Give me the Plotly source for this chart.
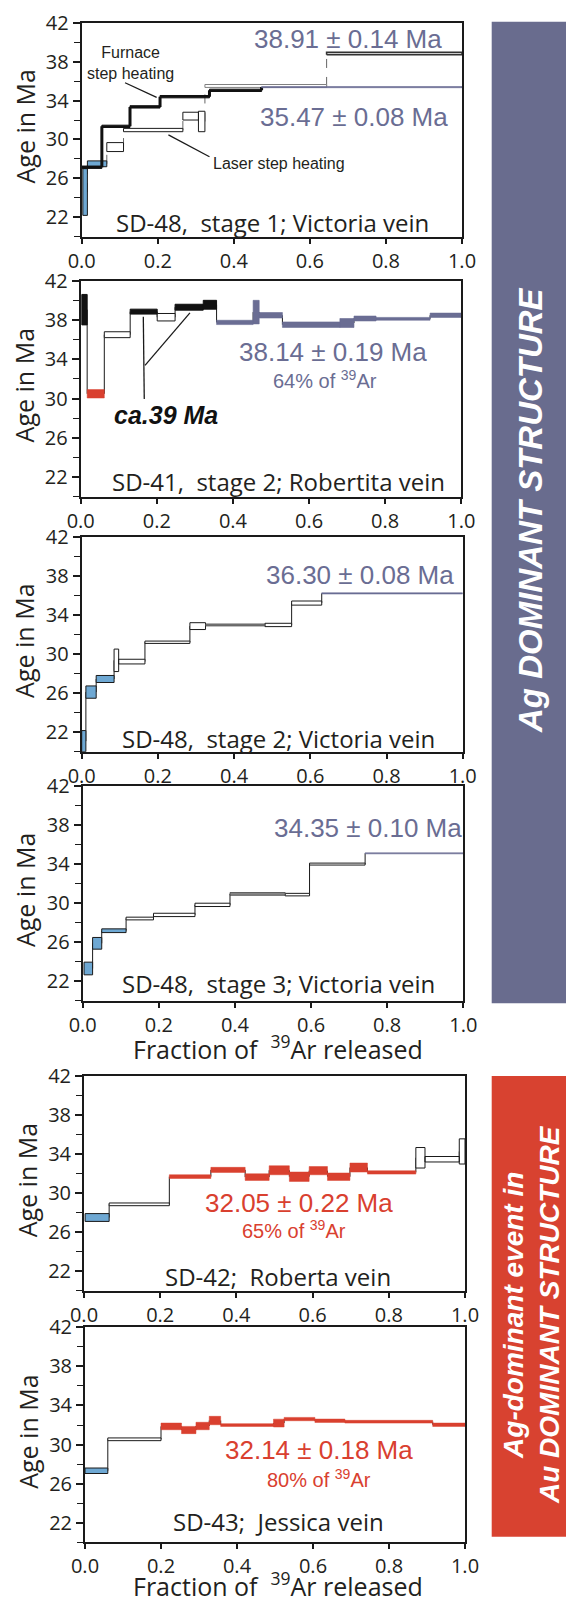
import plotly.graph_objects as go

# page body has an 8px margin: the figure is placed at (8, 8) inside the 574x1601 window
OX, OY = 8, 8
W, H = 574 - OX, 1601 - OY

# ------------------------------------------------------------------ data
# Panel 1 : SD-48, stage 1 (laser + furnace spectra)
p1_laser_start = [0.003, 0.015, 0.066, 0.110, 0.266, 0.307, 0.324, 0.644]
p1_laser_end   = [0.015, 0.066, 0.110, 0.266, 0.307, 0.324, 0.644, 1.000]
p1_laser_age   = [24.6, 27.5, 29.22, 30.97, 32.4, 31.85, 35.5, 38.83]
p1_laser_err   = [2.4, 0.3, 0.46, 0.17, 0.4, 1.05, 0.15, 0.12]
p1_laser_kind  = ['b', 'b', 'w', 'w', 'w', 'w', 'wg', 'wd']

p1_furn_start = [0.000, 0.053, 0.127, 0.206, 0.336, 0.473]
p1_furn_end   = [0.053, 0.127, 0.206, 0.336, 0.473, 1.000]
p1_furn_age   = [27.15, 31.35, 33.35, 34.4, 35.05, 35.38]
p1_furn_err   = [0.12, 0.12, 0.12, 0.12, 0.12, 0.06]
p1_furn_kind  = ['k', 'k', 'k', 'k', 'k', 'p']

# Panel 2 : SD-41, stage 2
p2_start = [0.003, 0.017, 0.062, 0.130, 0.201, 0.248, 0.322, 0.357, 0.453, 0.469, 0.530, 0.681, 0.718, 0.776, 0.918]
p2_end   = [0.017, 0.062, 0.130, 0.201, 0.248, 0.322, 0.357, 0.453, 0.469, 0.530, 0.681, 0.718, 0.776, 0.918, 1.000]
p2_age   = [39.05, 30.48, 36.5, 38.85, 38.28, 39.3, 39.55, 37.75, 38.8, 38.48, 37.52, 37.69, 38.15, 38.12, 38.48]
p2_err   = [1.55, 0.43, 0.3, 0.25, 0.38, 0.3, 0.45, 0.22, 1.2, 0.28, 0.28, 0.46, 0.25, 0.14, 0.22]
p2_kind  = ['k', 'r', 'w', 'k', 'w', 'k', 'k', 'p', 'p', 'p', 'p', 'p', 'p', 'p', 'p']

# Panel 3 : SD-48, stage 2
p3_start = [0.000, 0.011, 0.038, 0.085, 0.097, 0.166, 0.284, 0.325, 0.481, 0.551, 0.630]
p3_end   = [0.011, 0.038, 0.085, 0.097, 0.166, 0.284, 0.325, 0.481, 0.551, 0.630, 1.000]
p3_age   = [21.08, 26.1, 27.44, 29.35, 29.22, 31.2, 32.85, 32.97, 32.97, 35.21, 36.2]
p3_err   = [1.08, 0.63, 0.36, 1.15, 0.24, 0.12, 0.35, 0.1, 0.17, 0.21, 0.06]
p3_kind  = ['b', 'b', 'b', 'w', 'w', 'w', 'w', 'g', 'w', 'w', 'p']

# Panel 4 : SD-48, stage 3
p4_start = [0.0035, 0.026, 0.050, 0.114, 0.186, 0.295, 0.387, 0.532, 0.596, 0.742]
p4_end   = [0.026, 0.050, 0.114, 0.186, 0.295, 0.387, 0.532, 0.596, 0.742, 1.000]
p4_age   = [23.3, 25.88, 27.17, 28.42, 28.79, 29.82, 30.94, 30.87, 34.0, 35.1]
p4_err   = [0.65, 0.6, 0.19, 0.14, 0.17, 0.17, 0.14, 0.13, 0.1, 0.05]
p4_kind  = ['b', 'b', 'b', 'w', 'w', 'w', 'g', 'w', 'w', 'p']

# Panel 5 : SD-42, Roberta vein
p5_start = [0.003, 0.066, 0.224, 0.333, 0.423, 0.486, 0.539, 0.591, 0.639, 0.698, 0.744, 0.871, 0.895, 0.985]
p5_end   = [0.066, 0.224, 0.333, 0.423, 0.486, 0.539, 0.591, 0.639, 0.698, 0.744, 0.871, 0.895, 0.985, 1.000]
p5_age   = [27.5, 28.85, 31.69, 32.38, 31.64, 32.34, 31.68, 32.3, 31.68, 32.62, 32.12, 33.62, 33.47, 34.27]
p5_err   = [0.4, 0.14, 0.19, 0.26, 0.34, 0.46, 0.48, 0.42, 0.38, 0.46, 0.17, 1.05, 0.28, 1.29]
p5_kind  = ['b', 'w', 'r', 'r', 'r', 'r', 'r', 'r', 'r', 'r', 'r', 'w', 'w', 'w']

# Panel 6 : SD-43, Jessica vein
p6_start = [0.000, 0.060, 0.200, 0.254, 0.292, 0.327, 0.357, 0.496, 0.524, 0.605, 0.684, 0.915]
p6_end   = [0.060, 0.200, 0.254, 0.292, 0.327, 0.357, 0.496, 0.524, 0.605, 0.684, 0.915, 1.000]
p6_age   = [27.32, 30.54, 31.86, 31.49, 31.9, 32.46, 32.0, 32.2, 32.61, 32.44, 32.34, 32.03]
p6_err   = [0.28, 0.14, 0.34, 0.37, 0.38, 0.43, 0.14, 0.4, 0.17, 0.17, 0.14, 0.17]
p6_kind  = ['b', 'w', 'r', 'r', 'r', 'r', 'r', 'r', 'r', 'r', 'r', 'r']

# pointer lines (fraction, age)
p1_furn_ptr_f, p1_furn_ptr_age = [0.114, 0.197], [35.83, 34.33]
p1_laser_ptr_f, p1_laser_ptr_age = [0.228, 0.336], [30.47, 28.23]
p2_ptr1_f, p2_ptr1_age = [0.167, 0.1645], [29.96, 38.32]
p2_ptr2_f, p2_ptr2_age = [0.169, 0.287], [33.37, 38.72]

x_ticks = [0.0, 0.2, 0.4, 0.6, 0.8, 1.0]
y_ticks = [22, 26, 30, 34, 38, 42]
y_minor = [20, 24, 28, 32, 36, 40]

# ------------------------------------------------------------------ styles
BLUEGREY = '#6a6d93'
RED = '#d9402f'
STYLE = {
    'b': ('#6ea8d3', '#1a1a1a', 1.0),
    'w': ('#ffffff', '#1a1a1a', 1.0),
    'wg': ('#ffffff', '#808080', 1.0),
    'wd': ('#ffffff', '#333333', 1.6),
    'k': ('#111111', '#111111', 1.0),
    'r': (RED, RED, 0.5),
    'p': (BLUEGREY, BLUEGREY, 0.6),
    'g': ('#8a8a8a', '#444444', 0.8),
}

# panel pixel boxes in window coordinates: left, right, top, bottom
PANELS = [
    (81.7, 462.0, 22.7, 236.8),
    (80.7, 461.3, 280.7, 496.7),
    (81.7, 462.7, 536.7, 751.7),
    (82.7, 463.3, 786.0, 1000.7),
    (84.0, 465.0, 1076.0, 1290.7),
    (85.0, 465.0, 1327.3, 1542.3),
]


def fx(x):
    return (x - OX) / W


def fy(y):
    return 1 - (y - OY) / H


fig = go.Figure()


def ax_names(i):
    return ('x' if i == 1 else f'x{i}'), ('y' if i == 1 else f'y{i}')


def add_spectrum(i, start, end, age, err, kind, conn_color='#1a1a1a', conn_w=1.0, conn_dash='solid'):
    xa, ya = ax_names(i)
    cx, cy = [], []
    for j in range(len(start) - 1):
        b = end[j]
        cx += [b, b, None]
        cy += [age[j], age[j + 1], None]
    fig.add_trace(go.Scatter(x=cx, y=cy, mode='lines', xaxis=xa, yaxis=ya,
                             line=dict(color=conn_color, width=conn_w, dash=conn_dash),
                             hoverinfo='skip', showlegend=False))
    for k in STYLE:
        px_, py_ = [], []
        for s, e, a, r, kk in zip(start, end, age, err, kind):
            if kk != k:
                continue
            px_ += [s, e, e, s, s, None]
            py_ += [a - r, a - r, a + r, a + r, a - r, None]
        if not px_:
            continue
        fc, lc, lw = STYLE[k]
        fig.add_trace(go.Scatter(x=px_, y=py_, mode='lines', fill='toself', fillcolor=fc,
                                 xaxis=xa, yaxis=ya, line=dict(color=lc, width=lw),
                                 hoverinfo='skip', showlegend=False))


def add_line(i, xs, ys, w=1.3):
    xa, ya = ax_names(i)
    fig.add_trace(go.Scatter(x=xs, y=ys, mode='lines', xaxis=xa, yaxis=ya,
                             line=dict(color='#1a1a1a', width=w), hoverinfo='skip', showlegend=False))


add_spectrum(1, p1_laser_start, p1_laser_end, p1_laser_age, p1_laser_err, p1_laser_kind,
             conn_color='#666666', conn_w=1.0, conn_dash='dash')
add_spectrum(1, p1_furn_start, p1_furn_end, p1_furn_age, p1_furn_err, p1_furn_kind,
             conn_color='#111111', conn_w=3.0)
add_spectrum(2, p2_start, p2_end, p2_age, p2_err, p2_kind)
add_spectrum(3, p3_start, p3_end, p3_age, p3_err, p3_kind)
add_spectrum(4, p4_start, p4_end, p4_age, p4_err, p4_kind)
add_spectrum(5, p5_start, p5_end, p5_age, p5_err, p5_kind)
add_spectrum(6, p6_start, p6_end, p6_age, p6_err, p6_kind)

add_line(1, p1_furn_ptr_f, p1_furn_ptr_age)
add_line(1, p1_laser_ptr_f, p1_laser_ptr_age)
add_line(2, p2_ptr1_f, p2_ptr1_age)
add_line(2, p2_ptr2_f, p2_ptr2_age)

# ------------------------------------------------------------------ axes
TICKFONT = dict(family='Open Sans', size=20, color='#231f20')
layout = dict(width=W, height=H, margin=dict(l=0, r=0, t=0, b=0, pad=0, autoexpand=False),
              paper_bgcolor='white', plot_bgcolor='white', showlegend=False)
for i, (l, r, t, b) in enumerate(PANELS, start=1):
    xk = 'xaxis' if i == 1 else f'xaxis{i}'
    yk = 'yaxis' if i == 1 else f'yaxis{i}'
    xa, ya = ax_names(i)
    layout[xk] = dict(domain=[fx(l), fx(r)], anchor=ya, range=[0, 1], automargin=False,
                      tickvals=x_ticks, ticktext=[f'{v:.1f}' for v in x_ticks],
                      ticks='outside', ticklen=5, tickwidth=1.5, tickcolor='#1a1a1a',
                      showline=True, linewidth=2, linecolor='#1a1a1a', mirror=True,
                      showgrid=False, zeroline=False, tickfont=TICKFONT, fixedrange=True)
    layout[yk] = dict(domain=[fy(b), fy(t)], anchor=xa, range=[20, 42], automargin=False,
                      tickvals=y_ticks, ticktext=[str(v) for v in y_ticks],
                      ticks='outside', ticklen=7, tickwidth=1.5, tickcolor='#1a1a1a',
                      minor=dict(tickvals=y_minor, ticks='outside', ticklen=6,
                                 tickwidth=1.3, tickcolor='#1a1a1a'),
                      showline=True, linewidth=2, linecolor='#1a1a1a', mirror=True,
                      showgrid=False, zeroline=False, tickfont=TICKFONT, fixedrange=True)
fig.update_layout(**layout)

# ------------------------------------------------------------------ text
ann = []


def text(x, y, s, size, color='#231f20', family='Open Sans', angle=0, xanchor='center'):
    ann.append(dict(x=fx(x), y=fy(y), xref='paper', yref='paper', text=s, showarrow=False,
                    font=dict(family=family, size=size, color=color), textangle=angle,
                    xanchor=xanchor, yanchor='middle', align='center'))


ARIAL = 'Liberation Sans'
NB = '\u00a0'

for (l, r, t, b) in PANELS:
    text(l - 57, (t + b) / 2 - 3, 'Age in Ma', 25, angle=-90)

text(278, 1047, f'Fraction of{NB} <sup>39</sup>Ar released', 25)
text(278, 1584, f'Fraction of{NB} <sup>39</sup>Ar released', 25)

text(272.5, 222.7, f'SD-48,{NB} stage 1; Victoria vein', 24)
text(278.5, 481.7, f'SD-41,{NB} stage 2; Robertita vein', 24)
text(278.3, 738.3, f'SD-48,{NB} stage 2; Victoria vein', 24)
text(278.3, 983.3, f'SD-48,{NB} stage 3; Victoria vein', 24)
text(277.8, 1276.7, f'SD-42;{NB} Roberta vein', 24)
text(278.3, 1521.7, f'SD-43;{NB} Jessica vein', 24)

text(348.3, 39.3, '38.91 ± 0.14 Ma', 26, BLUEGREY, ARIAL)
text(354.2, 116.7, '35.47 ± 0.08 Ma', 26, BLUEGREY, ARIAL)
text(332.5, 351.7, '38.14 ± 0.19 Ma', 26, BLUEGREY, ARIAL)
text(324.7, 379.0, '64% of <sup>39</sup>Ar', 20, BLUEGREY, ARIAL)
text(360.0, 575.0, '36.30 ± 0.08 Ma', 26, BLUEGREY, ARIAL)
text(367.5, 828.3, '34.35 ± 0.10 Ma', 26, BLUEGREY, ARIAL)
text(299.2, 1203.3, '32.05 ± 0.22 Ma', 26, RED, ARIAL)
text(293.8, 1229.3, '65% of <sup>39</sup>Ar', 20, RED, ARIAL)
text(319.3, 1450.0, '32.14 ± 0.18 Ma', 26, RED, ARIAL)
text(319.2, 1478.3, '80% of <sup>39</sup>Ar', 20, RED, ARIAL)

text(130, 63, 'Furnace<br>step heating', 16, '#231f20', ARIAL)
text(279.2, 163.3, 'Laser step heating', 16, '#231f20', ARIAL)
text(166.3, 415, '<b><i>ca.39 Ma</i></b>', 25, '#111111', ARIAL)

fig.add_shape(type='rect', xref='paper', yref='paper', x0=fx(491.7), x1=fx(570),
              y0=fy(1003.3), y1=fy(21.7), fillcolor='#696c8e', line_width=0, layer='below')
fig.add_shape(type='rect', xref='paper', yref='paper', x0=fx(491.7), x1=fx(570),
              y0=fy(1536.7), y1=fy(1076), fillcolor='#d84230', line_width=0, layer='below')
text(531, 510, '<b><i>Ag DOMINANT STRUCTURE</i></b>', 33, 'white', ARIAL, angle=-90)
text(531, 1315, '<b><i>Ag-dominant event in<br>Au DOMINANT STRUCTURE</i></b>', 28, 'white', ARIAL, angle=-90)

fig.update_layout(annotations=ann)
fig.write_html('out.html')
